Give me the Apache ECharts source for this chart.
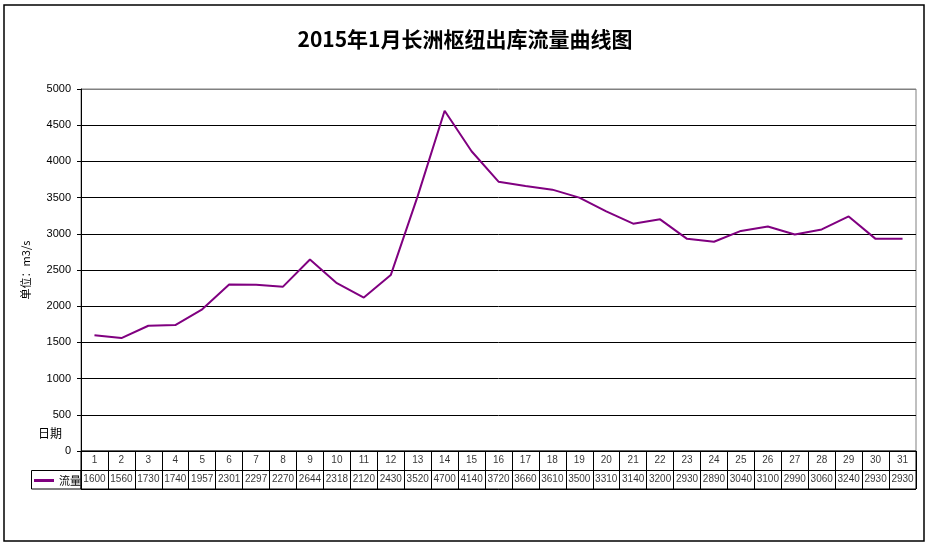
<!DOCTYPE html>
<html><head><meta charset="utf-8">
<script src="https://cdn.jsdelivr.net/npm/echarts@6/dist/echarts.min.js"></script>
<style>html,body{margin:0;padding:0;background:#fff}#c{width:930px;height:548px}</style>
</head><body><div id="c"></div>
<script>
const days = ['1','2','3','4','5','6','7','8','9','10','11','12','13','14','15','16','17','18','19','20','21','22','23','24','25','26','27','28','29','30','31'];
const flow = [1600,1560,1730,1740,1957,2301,2297,2270,2644,2318,2120,2430,3520,4700,4140,3720,3660,3610,3500,3310,3140,3200,2930,2890,3040,3100,2990,3060,3240,2930,2930];
const titleText = '2015年1月长洲枢纽出库流量曲线图';
const seriesName = '流量';
const yName = '单位：m3/s';
const xName = '日期';

const chart = echarts.init(document.getElementById('c'), null, {renderer:'canvas'});
const fontNum = 'Liberation Sans, DejaVu Sans, sans-serif';
const dayCells = days.map((d,i)=>[i,'day',d]);
const valCells = flow.map((v,i)=>[i,'val',String(v)]);
const gridColors = ['#000','#000','#000','#000','#000','#000','#000','#000','#000','#000','#808080'];

chart.setOption({
  animation:false,
  title:{text:titleText,left:'center',top:24,textStyle:{fontFamily:'Noto Sans CJK SC',fontWeight:'bold',fontSize:21,color:'#000'}},
  legend:{data:[{name:seriesName,icon:'rect'}],left:34,top:475,padding:0,itemWidth:20,itemHeight:3,itemGap:4,
    textStyle:{fontFamily:'Noto Sans CJK SC',fontSize:11,color:'#000'}},
  graphic:[
    {type:'rect',shape:{x:4,y:5,width:920,height:536},style:{fill:'none',stroke:'#000',lineWidth:1.5},silent:true},
    {type:'rect',shape:{x:31.5,y:470.5,width:49.5,height:18.5},style:{fill:'none',stroke:'#000',lineWidth:1},silent:true},
    {type:'text',left:38,top:427,style:{text:xName,font:'12px "Noto Sans CJK SC"',fill:'#000'},silent:true}
  ],
  grid:[
    {left:81,right:14,top:89,bottom:97,show:true,borderColor:'#808080',borderWidth:1},
    {left:81,right:14,top:451,height:38,show:true,borderColor:'#000',borderWidth:1}
  ],
  xAxis:[
    {type:'category',gridIndex:0,data:days,boundaryGap:true,axisLine:{show:true,lineStyle:{color:'#000'}},axisTick:{show:false},axisLabel:{show:false},splitLine:{show:false}},
    {type:'category',gridIndex:1,data:days,boundaryGap:true,axisLine:{show:false},axisTick:{show:false},axisLabel:{show:false},
      splitLine:{show:true,interval:0,lineStyle:{color:'#000',width:1}}}
  ],
  yAxis:[
    {type:'value',gridIndex:0,min:0,max:5000,interval:500,
      name:yName,nameLocation:'middle',nameGap:50,nameRotate:90,
      nameTextStyle:{fontFamily:'Noto Sans CJK SC',fontSize:11,color:'#000'},
      axisLine:{show:true,lineStyle:{color:'#000'}},axisTick:{show:true,length:4,lineStyle:{color:'#000'}},
      axisLabel:{margin:10,fontFamily:fontNum,fontSize:11,color:'#000',formatter:v=>String(v)},
      splitLine:{show:true,lineStyle:{color:gridColors,width:1}}},
    {type:'category',gridIndex:1,data:['val','day'],boundaryGap:true,axisLine:{show:false},axisTick:{show:false},axisLabel:{show:false},
      splitLine:{show:true,interval:0,lineStyle:{color:'#000',width:1}}}
  ],
  series:[
    {name:seriesName,type:'line',xAxisIndex:0,yAxisIndex:0,data:flow,symbol:'none',
      lineStyle:{color:'#800080',width:2},itemStyle:{color:'#800080'}},
    {name:'days',type:'scatter',xAxisIndex:1,yAxisIndex:1,data:dayCells,symbolSize:1,itemStyle:{color:'rgba(0,0,0,0)'},
      label:{show:true,position:'inside',formatter:p=>p.value[2],fontFamily:fontNum,fontSize:10,color:'#000'}},
    {name:'vals',type:'scatter',xAxisIndex:1,yAxisIndex:1,data:valCells,symbolSize:1,itemStyle:{color:'rgba(0,0,0,0)'},
      label:{show:true,position:'inside',formatter:p=>p.value[2],fontFamily:fontNum,fontSize:10,color:'#000'}}
  ]
});
</script></body></html>
